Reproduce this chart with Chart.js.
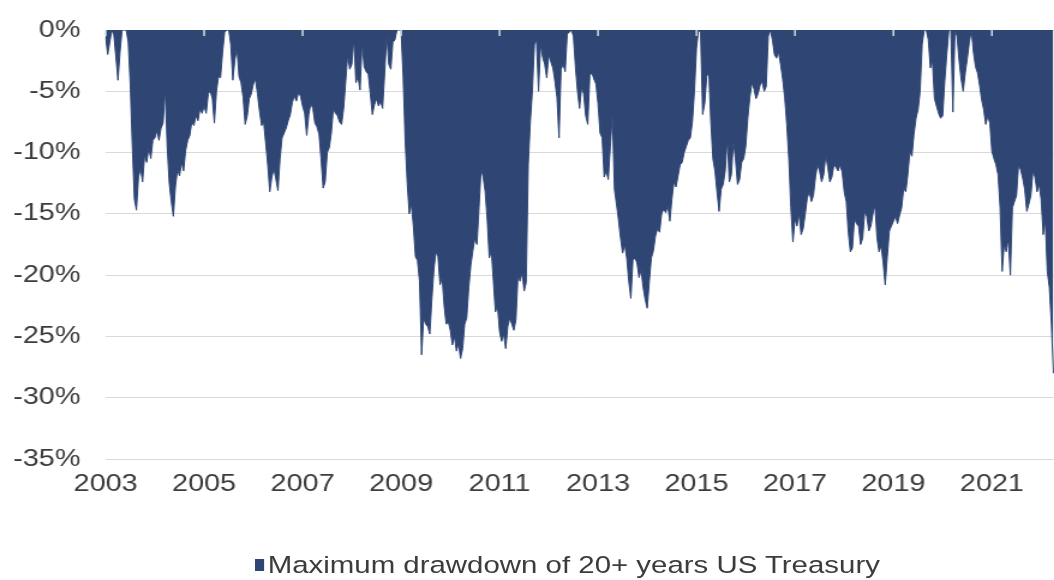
<!DOCTYPE html>
<html>
<head>
<meta charset="utf-8">
<title>Maximum drawdown of 20+ years US Treasury</title>
<script src="https://cdn.jsdelivr.net/npm/chart.js@4.4.1/dist/chart.umd.min.js"></script>
<style>
  html, body { margin: 0; padding: 0; background: #ffffff; overflow: hidden; }
  /* the chart is laid out narrower and widened horizontally, giving the broad lettering of the original figure */
  #wrap { position: absolute; left: 0; top: 0; width: 878px; height: 580px;
          transform: scaleX(1.2005); transform-origin: 0 0; }
  #legend-swatch { position: absolute; left: 212px; top: 559px; width: 8px; height: 12px; }
  #legend-text { position: absolute; left: 223px; top: 551px; line-height: 28px; white-space: nowrap;
                 font-family: 'Liberation Sans', Arial, sans-serif; font-size: 24.5px; color: #3c3c3c; }
</style>
</head>
<body>
<div id="wrap">
  <canvas id="chart"></canvas>
  <div id="legend-swatch"></div>
  <div id="legend-text"></div>
</div>
<script>
// Drawdown from the running peak (%), sampled twice a month (1st and 15th)
const dd2003 = [-0.6, -2.0, -1.0, 0, -0.4, -2.2, -4.1, -1.8, 0, 0, 0, -1.0, -4.5, -9.5, -13.8, -14.7, -12.0, -11.3, -12.4, -10.2, -10.8, -9.6, -10.5, -9.0];
const dd2004 = [-8.8, -8.2, -9.0, -8.0, -7.6, -4.8, -9.5, -12.5, -14.0, -15.2, -12.8, -11.4, -11.9, -10.8, -11.5, -9.8, -9.0, -8.6, -7.5, -7.8, -7.0, -7.4, -6.4, -6.8];
const dd2005 = [-6.2, -6.8, -5.2, -5.0, -5.6, -7.6, -5.0, -3.8, -3.9, -1.8, -0.2, 0, 0, -1.2, -4.1, -2.4, -1.5, -3.8, -4.3, -5.5, -7.7, -7.0, -5.6, -5.2];
const dd2006 = [-4.4, -4.0, -5.2, -6.6, -7.8, -7.5, -9.2, -11.0, -13.2, -12.0, -11.3, -12.2, -13.1, -10.5, -8.8, -8.4, -8.0, -7.4, -6.9, -5.9, -5.4, -5.8, -5.1, -5.4];
const dd2007 = [-6.2, -6.8, -8.6, -6.9, -6.0, -6.4, -7.6, -7.9, -8.5, -10.5, -12.9, -12.4, -10.0, -9.6, -8.4, -6.4, -6.8, -7.0, -7.5, -7.7, -6.4, -4.2, -2.0, -3.2];
const dd2008 = [-2.8, -0.7, -4.3, -3.8, -4.9, -1.0, -3.0, -3.4, -3.6, -5.2, -6.9, -6.1, -5.6, -6.2, -5.8, -6.4, -3.5, -0.4, -2.8, -3.2, -1.0, -0.8, 0, 0];
const dd2009 = [0, -3.8, -9.0, -12.5, -15.0, -14.2, -16.0, -18.5, -18.8, -20.5, -26.5, -23.5, -24.0, -24.2, -24.8, -22.0, -19.5, -18.1, -18.5, -20.8, -20.2, -22.5, -24.0, -23.8];
const dd2010 = [-24.5, -25.7, -25.0, -26.2, -25.6, -26.8, -26.0, -24.0, -23.5, -21.0, -19.2, -18.0, -17.0, -17.5, -14.5, -11.3, -12.0, -13.2, -15.5, -18.6, -18.0, -20.5, -23.0, -22.5];
const dd2011 = [-24.6, -25.4, -24.8, -26.0, -24.2, -23.5, -24.0, -24.5, -23.6, -20.0, -20.5, -19.8, -21.3, -20.6, -11.0, -7.5, -5.0, -1.2, -0.8, -5.0, -1.2, -2.2, -2.8, -3.9];
const dd2012 = [-2.0, -2.6, -3.1, -4.2, -5.5, -8.8, -3.2, -2.8, -3.4, -0.3, -0.2, 0, -0.5, -3.0, -5.0, -6.4, -4.7, -5.2, -7.0, -7.7, -3.7, -3.5, -4.0, -4.4];
const dd2013 = [-6.0, -8.4, -8.8, -12.0, -11.5, -12.2, -9.5, -6.9, -13.0, -14.2, -15.5, -17.0, -18.2, -17.5, -18.6, -20.5, -21.9, -18.8, -18.6, -19.0, -20.2, -19.6, -21.0, -22.0];
const dd2014 = [-22.7, -20.5, -18.6, -18.0, -16.8, -16.2, -16.5, -15.0, -14.6, -14.9, -14.3, -15.6, -13.8, -12.4, -12.8, -11.9, -11.0, -10.8, -10.0, -9.5, -9.0, -8.8, -7.5, -5.0];
const dd2015 = [-1.5, 0, -0.2, -6.9, -6.0, -3.8, -3.4, -7.5, -10.5, -11.5, -13.2, -14.8, -13.0, -12.6, -11.5, -8.8, -12.4, -11.8, -9.1, -10.5, -12.6, -12.2, -10.8, -10.5];
const dd2016 = [-9.5, -7.2, -5.5, -4.3, -4.8, -5.6, -5.2, -4.5, -4.2, -5.0, -4.6, -0.5, 0, -0.8, -2.0, -2.3, -1.8, -2.8, -4.0, -5.5, -7.7, -10.5, -14.5, -17.3];
const dd2017 = [-15.4, -16.0, -15.0, -16.7, -16.2, -15.0, -13.7, -13.2, -14.0, -13.5, -12.0, -11.0, -11.5, -12.4, -11.8, -10.2, -11.2, -12.4, -12.0, -11.0, -11.2, -11.5, -11.0, -11.6];
const dd2018 = [-13.2, -14.0, -16.5, -18.1, -17.8, -15.4, -15.8, -16.0, -17.5, -17.0, -14.8, -15.2, -16.4, -16.0, -15.0, -14.3, -17.0, -18.1, -17.6, -19.0, -20.8, -18.5, -16.4, -16.0];
const dd2019 = [-15.6, -15.2, -15.8, -15.1, -14.5, -12.9, -13.2, -11.8, -9.9, -10.3, -8.5, -7.2, -6.5, -5.0, -1.2, 0, 0, -0.8, -3.1, -2.5, -5.6, -6.2, -6.8, -7.2];
const dd2020 = [-7.0, -4.2, -2.0, 0, 0, -6.7, 0, -0.5, -2.5, -4.0, -5.0, -3.5, -2.3, -1.0, 0, -1.8, -3.0, -3.5, -4.5, -5.7, -6.5, -7.7, -7.0, -7.6];
const dd2021 = [-9.9, -10.5, -11.0, -11.8, -14.5, -19.7, -17.5, -18.1, -17.0, -20.0, -14.5, -14.0, -13.5, -11.0, -11.4, -12.1, -13.0, -14.8, -14.2, -13.5, -11.5, -12.0, -13.2, -12.6];
const dd2022 = [-13.8, -16.7, -15.5, -19.7, -21.0, -24.0, -28.0];

const drawdown = [].concat(dd2003, dd2004, dd2005, dd2006, dd2007, dd2008, dd2009, dd2010,
  dd2011, dd2012, dd2013, dd2014, dd2015, dd2016, dd2017, dd2018, dd2019, dd2020, dd2021, dd2022);

// Years labelled on the horizontal axis
const tickYears = ['2003', '2005', '2007', '2009', '2011', '2013', '2015', '2017', '2019', '2021'];
// Percent ticks on the vertical axis
const yTicks = [0, -5, -10, -15, -20, -25, -30, -35];
const seriesName = 'Maximum drawdown of 20+ years US Treasury';

// Date categories, one per sample
const labels = [];
for (let y = 2003; labels.length < drawdown.length; y++) {
  for (let m = 1; m <= 12 && labels.length < drawdown.length; m++) {
    const mm = String(m).padStart(2, '0');
    labels.push(y + '-' + mm + '-01');
    if (labels.length < drawdown.length) labels.push(y + '-' + mm + '-15');
  }
}

const NAVY = 'rgb(47, 70, 117)';
const TEXT = '#3c3c3c';
const GRID = '#d9d9d9';
const FONT = 'Liberation Sans, Arial, sans-serif';

function yearOf(label) {
  return (label.endsWith('-01-01') && tickYears.includes(label.slice(0, 4))) ? label.slice(0, 4) : '';
}

// Short tick marks of the horizontal axis, which crosses at 0%
const zeroAxisTicks = {
  id: 'zeroAxisTicks',
  afterDatasetsDraw(chart) {
    const { ctx, chartArea, scales } = chart;
    ctx.save();
    ctx.strokeStyle = '#dfe3ea';
    ctx.lineWidth = 1.4;
    labels.forEach((lab, i) => {
      if (!yearOf(lab)) return;
      const px = scales.x.getPixelForValue(i);
      ctx.beginPath();
      ctx.moveTo(px, chartArea.top);
      ctx.lineTo(px, chartArea.top + 6);
      ctx.stroke();
    });
    ctx.restore();
  }
};

const chart = new Chart(document.getElementById('chart'), {
  type: 'line',
  data: {
    labels: labels,
    datasets: [{
      label: seriesName,
      data: drawdown,
      fill: 'origin',
      backgroundColor: NAVY,
      borderColor: NAVY,
      borderWidth: 1,
      pointRadius: 0,
      tension: 0
    }]
  },
  options: {
    responsive: true,
    maintainAspectRatio: false,
    animation: false,
    events: [],
    layout: { padding: { top: 30, left: 0, right: 0, bottom: 0 } },
    plugins: {
      tooltip: { enabled: false },
      legend: { display: false }
    },
    scales: {
      x: {
        grid: { display: false },
        border: { display: false },
        ticks: {
          autoSkip: false,
          maxRotation: 0,
          minRotation: 0,
          padding: 3,
          color: TEXT,
          font: { family: FONT, size: 24 },
          callback: (value, index) => yearOf(labels[index])
        },
        afterFit(axis) {
          axis.height = 121;
          axis.paddingLeft = 0;
          axis.paddingRight = 0;
        }
      },
      y: {
        min: yTicks[yTicks.length - 1],
        max: yTicks[0],
        grid: { color: GRID, lineWidth: 1, drawTicks: false },
        border: { display: false },
        ticks: {
          stepSize: 5,
          padding: 21,
          color: TEXT,
          font: { family: FONT, size: 24 },
          callback: (v) => v + '%'
        },
        afterFit(axis) {
          axis.width = 88;
          axis.paddingTop = 0;
          axis.paddingBottom = 0;
        }
      }
    }
  },
  plugins: [zeroAxisTicks]
});

// Legend for the single series, in the dataset's own colour
const ds = chart.data.datasets[0];
document.getElementById('legend-swatch').style.background = ds.backgroundColor;
document.getElementById('legend-text').textContent = ds.label;
</script>
</body>
</html>
